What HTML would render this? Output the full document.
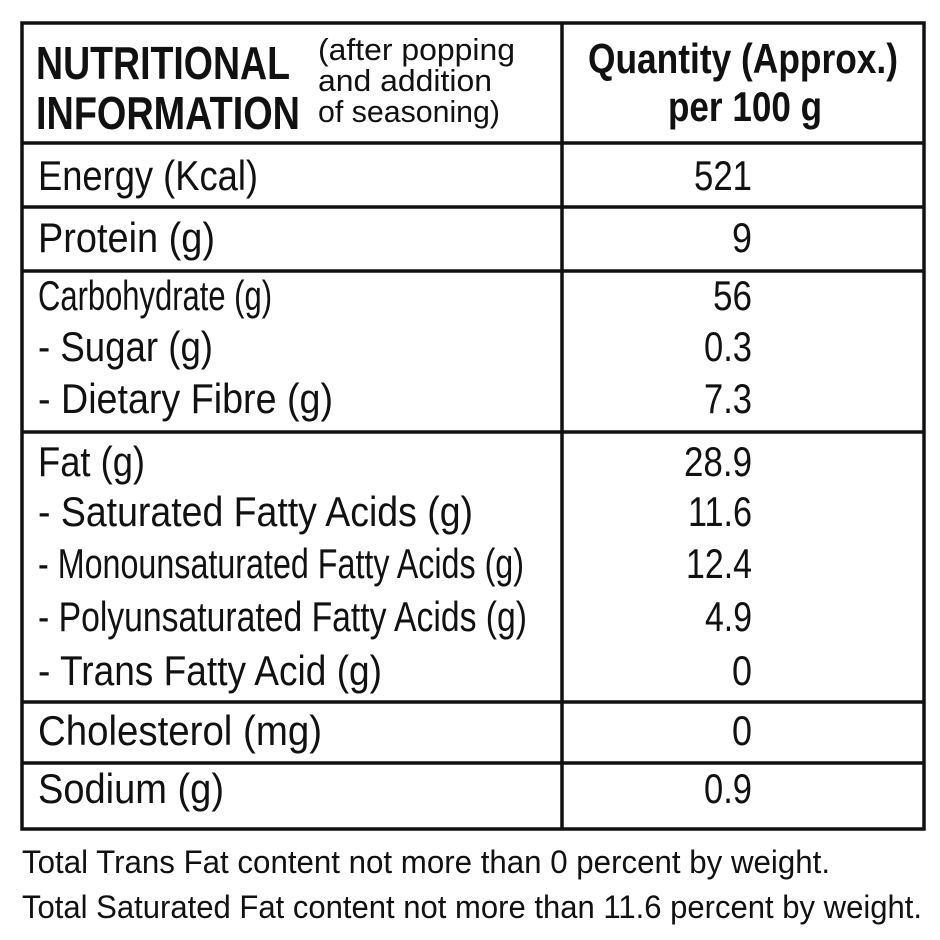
<!DOCTYPE html>
<html><head><meta charset="utf-8"><style>
html,body{margin:0;padding:0;background:#fff;width:940px;height:940px;overflow:hidden}
svg text{font-family:"Liberation Sans",sans-serif;fill:#111}
</style></head><body>
<svg width="940" height="940" viewBox="0 0 940 940" xmlns="http://www.w3.org/2000/svg">
<g stroke="#111" stroke-width="3.5" fill="none">
<rect x="22" y="23" width="902" height="806"/>
<line x1="562" y1="23" x2="562" y2="829"/>
<line x1="22" y1="143" x2="924" y2="143"/>
<line x1="22" y1="207" x2="924" y2="207"/>
<line x1="22" y1="271" x2="924" y2="271"/>
<line x1="22" y1="432" x2="924" y2="432"/>
<line x1="22" y1="702" x2="924" y2="702"/>
<line x1="22" y1="763" x2="924" y2="763"/>
</g>
<g font-weight="bold" font-size="46">
<text x="36" y="79" textLength="254" lengthAdjust="spacingAndGlyphs">NUTRITIONAL</text>
<text x="36" y="129" textLength="264" lengthAdjust="spacingAndGlyphs">INFORMATION</text>
</g>
<g font-size="31">
<text x="318" y="60" textLength="197" lengthAdjust="spacingAndGlyphs">(after popping</text>
<text x="318" y="91" textLength="174" lengthAdjust="spacingAndGlyphs">and addition</text>
<text x="318" y="122" textLength="182" lengthAdjust="spacingAndGlyphs">of seasoning)</text>
</g>
<g font-weight="bold" font-size="42">
<text x="588" y="73" textLength="310" lengthAdjust="spacingAndGlyphs">Quantity (Approx.)</text>
<text x="668" y="121" textLength="154" lengthAdjust="spacingAndGlyphs">per 100 g</text>
</g>
<g font-size="42">
<text x="38" y="190" textLength="220" lengthAdjust="spacingAndGlyphs">Energy (Kcal)</text>
<text x="38" y="252" textLength="177" lengthAdjust="spacingAndGlyphs">Protein (g)</text>
<text x="38" y="310" textLength="234" lengthAdjust="spacingAndGlyphs">Carbohydrate (g)</text>
<text x="38" y="361" textLength="175" lengthAdjust="spacingAndGlyphs">- Sugar (g)</text>
<text x="38" y="413" textLength="295" lengthAdjust="spacingAndGlyphs">- Dietary Fibre (g)</text>
<text x="38" y="476" textLength="107" lengthAdjust="spacingAndGlyphs">Fat (g)</text>
<text x="38" y="526" textLength="435" lengthAdjust="spacingAndGlyphs">- Saturated Fatty Acids (g)</text>
<text x="38" y="578" textLength="486" lengthAdjust="spacingAndGlyphs">- Monounsaturated Fatty Acids (g)</text>
<text x="38" y="631" textLength="489" lengthAdjust="spacingAndGlyphs">- Polyunsaturated Fatty Acids (g)</text>
<text x="38" y="685" textLength="344" lengthAdjust="spacingAndGlyphs">- Trans Fatty Acid (g)</text>
<text x="38" y="745" textLength="284" lengthAdjust="spacingAndGlyphs">Cholesterol (mg)</text>
<text x="38" y="803" textLength="186" lengthAdjust="spacingAndGlyphs">Sodium (g)</text>
</g>
<g font-size="42" text-anchor="end">
<text x="752" y="190" textLength="58" lengthAdjust="spacingAndGlyphs">521</text>
<text x="752" y="252" textLength="20" lengthAdjust="spacingAndGlyphs">9</text>
<text x="752" y="310" textLength="39" lengthAdjust="spacingAndGlyphs">56</text>
<text x="752" y="361" textLength="48" lengthAdjust="spacingAndGlyphs">0.3</text>
<text x="752" y="413" textLength="48" lengthAdjust="spacingAndGlyphs">7.3</text>
<text x="752" y="476" textLength="68" lengthAdjust="spacingAndGlyphs">28.9</text>
<text x="752" y="526" textLength="64" lengthAdjust="spacingAndGlyphs">11.6</text>
<text x="752" y="578" textLength="66" lengthAdjust="spacingAndGlyphs">12.4</text>
<text x="752" y="631" textLength="47" lengthAdjust="spacingAndGlyphs">4.9</text>
<text x="752" y="685" textLength="20" lengthAdjust="spacingAndGlyphs">0</text>
<text x="752" y="745" textLength="20" lengthAdjust="spacingAndGlyphs">0</text>
<text x="752" y="803" textLength="48" lengthAdjust="spacingAndGlyphs">0.9</text>
</g>
<g font-size="32">
<text x="22" y="873" textLength="808" lengthAdjust="spacingAndGlyphs">Total Trans Fat content not more than 0 percent by  weight.</text>
<text x="22" y="918" textLength="900" lengthAdjust="spacingAndGlyphs">Total Saturated Fat content not more than 11.6 percent by weight.</text>
</g>
</svg>
</body></html>
